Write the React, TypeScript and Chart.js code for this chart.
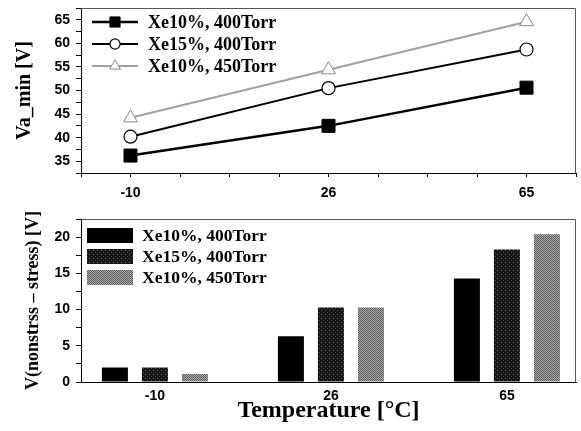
import React, { useEffect, useRef } from "react";
import { Chart, registerables } from "chart.js";

Chart.register(...registerables);

// ---- data ----
const temperatures = ["-10", "26", "65"];
const seriesNames = ["Xe10%, 400Torr", "Xe15%, 400Torr", "Xe10%, 450Torr"];
const vaMinXe10_400 = [36.2, 42.5, 50.6];
const vaMinXe15_400 = [40.2, 50.5, 58.7];
const vaMinXe10_450 = [44.2, 54.4, 64.6];
const deltaXe10_400 = [2.0, 6.3, 14.3];
const deltaXe15_400 = [2.0, 10.3, 18.3];
const deltaXe10_450 = [1.1, 10.3, 20.4];

const SANS = "'Liberation Sans', Arial, sans-serif";
const SERIF = "'Liberation Serif', 'Times New Roman', serif";

function drawMarker(ctx: CanvasRenderingContext2D, style: string, x: number, y: number, r: number, fill: string, stroke: string, lw: number) {
  ctx.save();
  ctx.fillStyle = fill;
  ctx.strokeStyle = stroke;
  ctx.lineWidth = lw;
  ctx.beginPath();
  if (style === "rect") {
    const s = Math.SQRT1_2 * r;
    ctx.rect(x - s, y - s, 2 * s, 2 * s);
  } else if (style === "triangle") {
    let a = 0;
    ctx.moveTo(x + Math.sin(a) * r, y - Math.cos(a) * r);
    a += (2 * Math.PI) / 3;
    ctx.lineTo(x + Math.sin(a) * r, y - Math.cos(a) * r);
    a += (2 * Math.PI) / 3;
    ctx.lineTo(x + Math.sin(a) * r, y - Math.cos(a) * r);
    ctx.closePath();
  } else {
    ctx.arc(x, y, r, 0, Math.PI * 2);
  }
  ctx.fill();
  if (lw > 0) ctx.stroke();
  ctx.restore();
}

const framePlugin = {
  id: "frameBox",
  afterDraw(chart: any) {
    const { ctx, chartArea: a } = chart;
    ctx.save();
    ctx.strokeStyle = "#555";
    ctx.lineWidth = 1;
    ctx.beginPath();
    ctx.moveTo(a.left, a.top + 0.5);
    ctx.lineTo(a.right - 0.5, a.top + 0.5);
    ctx.lineTo(a.right - 0.5, a.bottom);
    ctx.stroke();
    ctx.restore();
  },
};

const insideLegend = {
  id: "insideLegend",
  afterDraw(chart: any, _args: any, opts: any) {
    if (!opts || !opts.kind) return;
    const { ctx, chartArea: a } = chart;
    ctx.save();
    chart.data.datasets.forEach((ds: any, i: number) => {
      const y = a.top + opts.top + i * opts.gap;
      const x0 = a.left + opts.left;
      if (opts.kind === "line") {
        ctx.strokeStyle = ds.borderColor;
        ctx.lineWidth = ds.borderWidth;
        ctx.beginPath();
        ctx.moveTo(x0, y);
        ctx.lineTo(x0 + opts.symbolWidth, y);
        ctx.stroke();
        drawMarker(ctx, ds.pointStyle, x0 + opts.symbolWidth / 2, y, ds.pointRadius * 0.78, ds.pointBackgroundColor, ds.pointBorderColor, ds.pointBorderWidth);
      } else {
        ctx.fillStyle = ds.backgroundColor;
        ctx.fillRect(x0, y - opts.boxHeight / 2, opts.symbolWidth, opts.boxHeight);
      }
      ctx.fillStyle = "#000";
      ctx.font = opts.font;
      ctx.textBaseline = "middle";
      ctx.textAlign = "left";
      ctx.fillText(ds.label, x0 + opts.symbolWidth + opts.textGap, y + 1);
    });
    ctx.restore();
  },
};

function makePattern(bg: string, dots: [number, number, string][], size: number) {
  const c = document.createElement("canvas");
  c.width = size;
  c.height = size;
  const g = c.getContext("2d")!;
  g.fillStyle = bg;
  g.fillRect(0, 0, size, size);
  dots.forEach(([x, y, col]) => {
    g.fillStyle = col;
    g.fillRect(x, y, 1, 1);
  });
  return g.createPattern(c, "repeat") as any;
}

const tickFont = { family: SANS, weight: "bold" as const, size: 14 };

const fitX = (h: number) => (s: any) => {
  s.height = h;
  s.paddingLeft = 0;
  s.paddingRight = 0;
};
const fitY = (w: number) => (s: any) => {
  s.width = w;
  s.paddingTop = 0;
  s.paddingBottom = 0;
};

export default function App() {
  const topRef = useRef<HTMLCanvasElement>(null);
  const botRef = useRef<HTMLCanvasElement>(null);

  useEffect(() => {
    const toXY = (arr: number[]) => arr.map((y, i) => ({ x: i, y }));

    const top = new Chart(topRef.current!, {
      type: "line",
      data: {
        datasets: [
          {
            label: seriesNames[0],
            data: toXY(vaMinXe10_400),
            borderColor: "#000",
            borderWidth: 2.5,
            pointStyle: "rect",
            pointRadius: 9.2,
            pointBackgroundColor: "#000",
            pointBorderColor: "#000",
            pointBorderWidth: 1,
            tension: 0,
          },
          {
            label: seriesNames[1],
            data: toXY(vaMinXe15_400),
            borderColor: "#000",
            borderWidth: 2,
            pointStyle: "circle",
            pointRadius: 6.5,
            pointBackgroundColor: "#fff",
            pointBorderColor: "#000",
            pointBorderWidth: 1.2,
            tension: 0,
          },
          {
            label: seriesNames[2],
            data: toXY(vaMinXe10_450),
            borderColor: "#a0a0a0",
            borderWidth: 2,
            pointStyle: "triangle",
            pointRadius: 8,
            pointBackgroundColor: "#fff",
            pointBorderColor: "#8a8a8a",
            pointBorderWidth: 1,
            tension: 0,
          },
        ] as any,
      },
      options: {
        animation: false,
        responsive: false,
        devicePixelRatio: 1,
        layout: { autoPadding: false, padding: { top: 8, right: 5, left: 0, bottom: 0 } },
        plugins: {
          legend: { display: false },
          tooltip: { enabled: false },
          insideLegend: {
            kind: "line",
            left: 11,
            top: 14,
            gap: 22,
            symbolWidth: 46,
            textGap: 10,
            font: `bold 18px ${SERIF}`,
          },
        } as any,
        scales: {
          x: {
            type: "linear",
            min: -0.25,
            max: 2.25,
            offset: false,
            ticks: {
              stepSize: 0.25,
              autoSkip: false,
              maxRotation: 0,
              padding: 8,
              font: tickFont,
              color: "#000",
              callback: (v: any) => (Number.isInteger(v) && temperatures[v] !== undefined ? temperatures[v] : ""),
            },
            grid: { drawOnChartArea: false, drawTicks: true, tickLength: 4, color: "#000" },
            border: { display: true, color: "#000", width: 1 },
            afterFit: fitX(32),
          },
          y: {
            type: "linear",
            min: 32.5,
            max: 67.5,
            ticks: {
              stepSize: 2.5,
              autoSkip: false,
              padding: 6,
              font: tickFont,
              color: "#000",
              callback: (v: any) => (v % 5 === 0 ? String(v) : ""),
            },
            grid: { drawOnChartArea: false, drawTicks: true, tickLength: 5, color: "#000" },
            border: { display: true, color: "#000", width: 1 },
            title: {
              display: true,
              text: "Va_min [V]",
              color: "#000",
              font: { family: SERIF, weight: "bold", size: 20 },
              padding: { top: 13, bottom: 0 },
            },
            afterFit: fitY(81),
          },
        } as any,
      },
      plugins: [framePlugin, insideLegend],
    });

    const p2 = makePattern("#151515", [[1, 1, "#6a6a6a"], [3, 3, "#4a4a4a"]], 4);
    const p3 = makePattern("#5e5e5e", [[0, 0, "#b0b0b0"], [1, 1, "#a2a2a2"]], 2);

    const bot = new Chart(botRef.current!, {
      type: "bar",
      data: {
        datasets: [
          { label: seriesNames[0], data: toXY(deltaXe10_400), backgroundColor: "#000" },
          { label: seriesNames[1], data: toXY(deltaXe15_400), backgroundColor: p2 },
          { label: seriesNames[2], data: toXY(deltaXe10_450), backgroundColor: p3 },
        ] as any,
      },
      options: {
        animation: false,
        responsive: false,
        devicePixelRatio: 1,
        layout: { autoPadding: false, padding: { top: 14, right: 5, left: 0, bottom: 0 } },
        datasets: { bar: { categoryPercentage: 0.682, barPercentage: 0.65 } } as any,
        plugins: {
          legend: { display: false },
          tooltip: { enabled: false },
          insideLegend: {
            kind: "box",
            left: 6,
            top: 16.5,
            gap: 21,
            symbolWidth: 46,
            boxHeight: 15,
            textGap: 9,
            font: `bold 17.5px ${SERIF}`,
          },
        } as any,
        scales: {
          x: {
            type: "linear",
            min: -0.42,
            max: 2.3925,
            offset: false,
            afterBuildTicks: (s: any) => {
              s.ticks = temperatures.map((_, i) => ({ value: i }));
            },
            ticks: {
              autoSkip: false,
              maxRotation: 0,
              padding: 6,
              font: tickFont,
              color: "#000",
              callback: (v: any) => temperatures[v] ?? "",
            },
            grid: { display: false, drawTicks: false, offset: false },
            border: { display: true, color: "#000", width: 1 },
            title: {
              display: true,
              text: "Temperature [°C]",
              color: "#000",
              font: { family: SERIF, weight: "bold", size: 24 },
              padding: { top: 0, bottom: 5.5 },
            },
            afterFit: fitX(49),
          },
          y: {
            type: "linear",
            min: 0,
            max: 22.5,
            ticks: {
              stepSize: 2.5,
              autoSkip: false,
              padding: 6,
              font: tickFont,
              color: "#000",
              callback: (v: any) => (v % 5 === 0 ? String(v) : ""),
            },
            grid: { drawOnChartArea: false, drawTicks: true, tickLength: 5, color: "#000" },
            border: { display: true, color: "#000", width: 1 },
            title: {
              display: true,
              text: "V(nonstrss – stress) [V]",
              color: "#000",
              font: { family: SERIF, weight: "bold", size: 18 },
              padding: { top: 23, bottom: 0 },
            },
            afterFit: fitY(81),
          },
        } as any,
      },
      plugins: [framePlugin, insideLegend],
    });

    return () => {
      top.destroy();
      bot.destroy();
    };
  }, []);

  return (
    <div style={{ position: "fixed", left: 0, top: 0, width: 581, height: 431, background: "#fff" }}>
      <canvas ref={topRef} width={581} height={205} style={{ position: "absolute", left: 0, top: 0 }} />
      <canvas ref={botRef} width={581} height={226} style={{ position: "absolute", left: 0, top: 205 }} />
    </div>
  );
}
